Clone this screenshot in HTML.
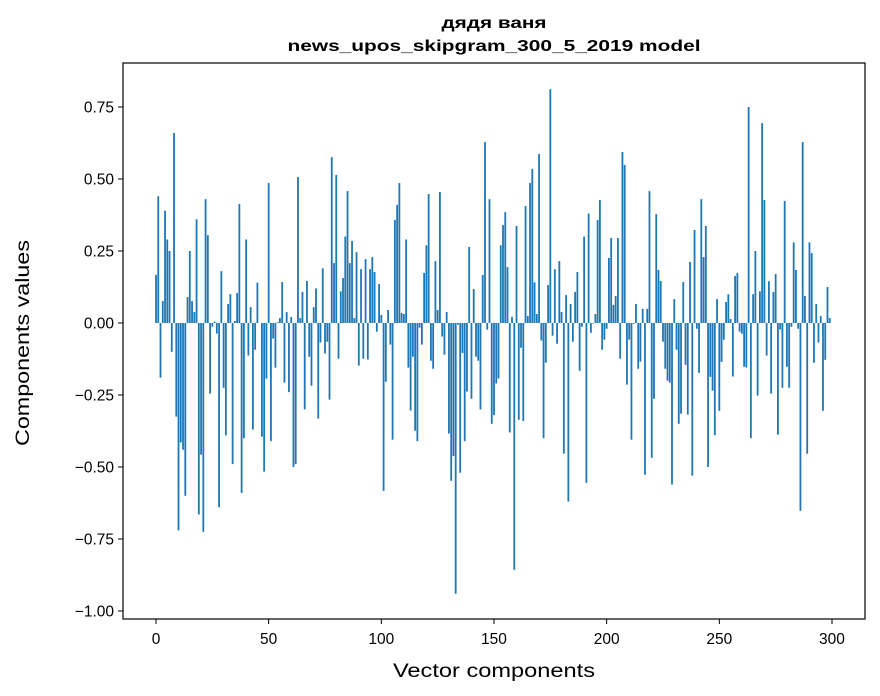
<!DOCTYPE html>
<html><head><meta charset="utf-8"><style>
body{margin:0;background:#fff;}
svg{display:block;font-family:"Liberation Sans","DejaVu Sans",sans-serif;}
</style></head><body>
<svg id="chart" width="880" height="696" viewBox="0 0 880 696">
<text x="494" y="28" text-anchor="middle" font-size="16" font-weight="bold" textLength="105" lengthAdjust="spacingAndGlyphs">дядя ваня</text>
<text x="494" y="51" text-anchor="middle" font-size="16" font-weight="bold" textLength="413" lengthAdjust="spacingAndGlyphs">news_upos_skipgram_300_5_2019 model</text>
<g id="bars"></g>
<g id="xticks"></g>
<g id="yticks"></g>
<rect x="123" y="63" width="742" height="556" fill="none" stroke="#000" stroke-width="1.2"/>
<text x="494" y="677" text-anchor="middle" font-size="19" textLength="202" lengthAdjust="spacingAndGlyphs">Vector components</text>
<text transform="translate(29,343) rotate(-90)" text-anchor="middle" font-size="19" textLength="206" lengthAdjust="spacingAndGlyphs">Components values</text>
</svg>
<script>
const values = [
0.167,0.44,-0.19,0.076,0.39,0.29,0.25,-0.10,0.66,-0.325,
-0.72,-0.415,-0.44,-0.60,0.09,0.25,0.076,0.038,0.36,-0.665,
-0.457,-0.725,0.43,0.305,-0.245,-0.013,0.005,-0.037,-0.64,0.18,
-0.225,-0.39,0.066,0.10,-0.49,0.007,0.104,0.413,-0.59,-0.40,
0.29,-0.113,0.055,-0.37,-0.093,0.14,0.0,-0.395,-0.516,-0.193,
0.486,-0.41,-0.054,-0.155,0.003,0.017,0.142,-0.207,0.038,-0.24,
0.021,-0.50,-0.49,0.507,0.017,0.108,-0.30,0.146,-0.117,-0.218,
0.055,0.12,-0.332,-0.068,0.19,-0.106,-0.065,-0.266,0.576,0.208,
0.514,-0.124,0.11,0.156,0.30,0.458,0.208,0.285,0.017,0.246,
-0.148,0.187,-0.124,0.222,-0.127,0.187,0.229,0.177,-0.03,0.135,
0.028,-0.583,-0.204,0.045,-0.075,-0.405,0.358,0.41,0.486,0.035,
0.031,0.29,-0.155,-0.304,-0.117,-0.374,-0.41,-0.016,-0.075,0.174,
0.27,0.448,-0.131,-0.159,0.215,0.045,0.455,-0.047,-0.11,0.038,
-0.384,-0.548,-0.462,-0.94,-0.006,-0.52,-0.104,-0.41,-0.238,0.264,
-0.263,0.118,-0.117,-0.131,-0.30,0.167,0.628,-0.023,0.43,-0.35,
-0.32,-0.21,-0.193,0.27,0.34,0.385,0.194,-0.38,0.021,-0.857,
0.337,-0.336,-0.086,-0.34,0.406,0.024,0.486,0.535,0.141,0.031,
0.587,-0.061,-0.40,-0.138,0.132,0.812,-0.044,0.187,-0.072,0.215,
0.038,-0.454,0.097,-0.62,0.066,-0.065,0.108,0.177,-0.166,-0.013,
0.30,-0.555,0.38,-0.034,-0.002,0.031,0.358,0.427,-0.093,-0.058,
-0.02,0.226,0.295,0.063,0.094,0.295,-0.124,0.594,0.549,-0.214,
-0.058,-0.405,-0.003,0.066,-0.159,-0.134,0.049,-0.527,0.049,0.458,
-0.468,-0.263,0.378,0.184,0.146,-0.065,-0.159,-0.2,-0.207,-0.561,
0.083,-0.093,-0.35,-0.315,0.142,-0.145,-0.318,0.212,-0.53,0.323,
-0.02,-0.173,0.43,0.229,0.337,-0.50,-0.187,-0.235,-0.39,0.083,
-0.305,-0.135,-0.058,0.073,0.10,0.014,-0.186,0.163,0.174,-0.03,
-0.037,-0.152,-0.155,0.75,-0.40,0.10,0.25,-0.252,0.11,0.694,
0.427,-0.113,0.145,-0.245,0.108,0.17,-0.388,-0.023,-0.225,0.424,
-0.152,-0.225,-0.013,0.28,0.184,-0.02,-0.652,0.628,0.094,-0.454,
0.28,0.243,-0.138,0.066,-0.068,0.024,-0.305,-0.128,0.125,0.017
];
const xTicks = [0,50,100,150,200,250,300];
const yTicks = [0.75,0.5,0.25,0,-0.25,-0.5,-0.75,-1.0];
const yTickLabels = ["0.75","0.50","0.25","0.00","\u22120.25","\u22120.50","\u22120.75","\u22121.00"];

const NS = "http://www.w3.org/2000/svg";
const X0 = 156, XS = 2.2533;
const Y0 = 323, YS = 288;
function xs(v){ return X0 + v*XS; }
function ys(v){ return Y0 - v*YS; }

const gb = document.getElementById('bars');
values.forEach((v,i)=>{
  const r = document.createElementNS(NS,'rect');
  const w = 0.8*XS;
  r.setAttribute('x', xs(i) - w/2);
  r.setAttribute('width', w);
  r.setAttribute('y', Math.min(ys(v), ys(0)));
  r.setAttribute('height', Math.abs(ys(v)-ys(0)));
  r.setAttribute('fill', '#1f77b4');
  
  
  gb.appendChild(r);
});

const gx = document.getElementById('xticks');
xTicks.forEach(t=>{
  const l = document.createElementNS(NS,'line');
  l.setAttribute('x1', xs(t)); l.setAttribute('x2', xs(t));
  l.setAttribute('y1', 619); l.setAttribute('y2', 624);
  l.setAttribute('stroke', '#000');
  
  
  gx.appendChild(l);
  const tx = document.createElementNS(NS,'text');
  tx.setAttribute('x', xs(t)); tx.setAttribute('y', 644);
  tx.setAttribute('text-anchor', 'middle'); tx.setAttribute('font-size', '15.5');
  tx.textContent = t;
  
  
  gx.appendChild(tx);
});

const gy = document.getElementById('yticks');
yTicks.forEach((t,k)=>{
  const l = document.createElementNS(NS,'line');
  l.setAttribute('x1', 118); l.setAttribute('x2', 123);
  l.setAttribute('y1', ys(t)); l.setAttribute('y2', ys(t));
  l.setAttribute('stroke', '#000');
  
  
  gy.appendChild(l);
  const tx = document.createElementNS(NS,'text');
  tx.setAttribute('x', 114); tx.setAttribute('y', ys(t)+5.5);
  tx.setAttribute('text-anchor', 'end'); tx.setAttribute('font-size', '15.5');
  tx.textContent = yTickLabels[k];
  
  
  gy.appendChild(tx);
});
</script>
</body></html>
